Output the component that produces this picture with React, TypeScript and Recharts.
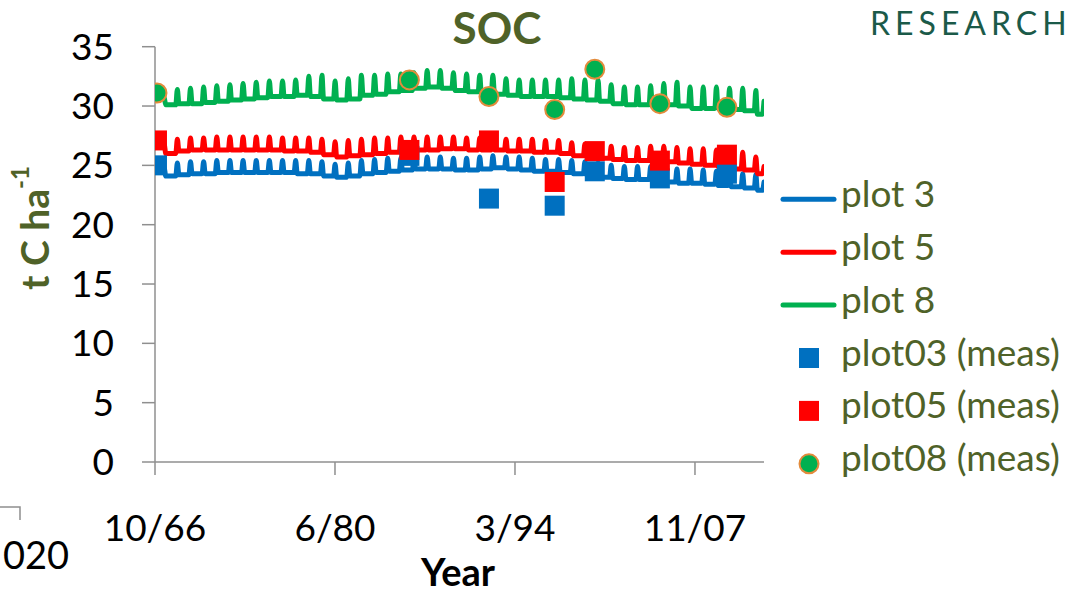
import React from 'react';
import { ComposedChart, Line, Scatter, XAxis, YAxis } from 'recharts';

// ---- simulated (modelled) series: one spike per year ----
const simYears = [
  1967, 1968, 1969, 1970, 1971, 1972, 1973, 1974, 1975, 1976,
  1977, 1978, 1979, 1980, 1981, 1982, 1983, 1984, 1985, 1986,
  1987, 1988, 1989, 1990, 1991, 1992, 1993, 1994, 1995, 1996,
  1997, 1998, 1999, 2000, 2001, 2002, 2003, 2004, 2005, 2006,
  2007, 2008, 2009, 2010, 2011, 2012,
];

const plot3Peak = [
  24.8, 25.2, 25.3, 25.3, 25.4, 25.4, 25.4, 25.4, 25.4, 25.4,
  25.4, 25.4, 25.3, 25.1, 25.2, 25.4, 25.5, 25.6, 25.6, 25.7,
  25.7, 25.7, 25.6, 25.6, 25.7, 25.8, 25.7, 25.7, 25.6, 25.5,
  25.5, 25.4, 25.3, 25.2, 25.0, 24.9, 24.9, 24.9, 24.8, 24.7,
  24.7, 24.6, 24.5, 24.4, 24.3, 24.2,
];
const plot3Trough = [
  24.1, 24.2, 24.3, 24.3, 24.4, 24.4, 24.4, 24.4, 24.4, 24.4,
  24.3, 24.3, 24.1, 24.0, 24.1, 24.3, 24.4, 24.5, 24.6, 24.7,
  24.7, 24.7, 24.6, 24.6, 24.7, 24.8, 24.7, 24.6, 24.5, 24.5,
  24.4, 24.3, 24.2, 24.0, 23.9, 23.8, 23.8, 23.7, 23.6, 23.5,
  23.5, 23.4, 23.3, 23.2, 23.1, 22.9,
];

const plot5Peak = [
  26.8, 27.2, 27.3, 27.3, 27.4, 27.4, 27.4, 27.4, 27.4, 27.3,
  27.3, 27.3, 27.2, 27.0, 27.1, 27.2, 27.3, 27.3, 27.4, 27.4,
  27.4, 27.4, 27.4, 27.3, 27.3, 27.3, 27.2, 27.2, 27.2, 27.1,
  27.1, 26.9, 26.8, 26.7, 26.6, 26.5, 26.5, 26.6, 26.6, 26.5,
  26.4, 26.4, 26.3, 26.2, 26.1, 25.7,
];
const plot5Trough = [
  26.0, 26.2, 26.3, 26.3, 26.3, 26.3, 26.3, 26.3, 26.3, 26.2,
  26.2, 26.1, 25.9, 25.7, 25.8, 25.9, 26.0, 26.1, 26.2, 26.3,
  26.3, 26.4, 26.4, 26.3, 26.3, 26.3, 26.2, 26.2, 26.1, 26.1,
  26.0, 25.8, 25.7, 25.6, 25.5, 25.4, 25.4, 25.3, 25.3, 25.2,
  25.1, 25.0, 24.9, 24.7, 24.6, 24.3,
];

const plot8Peak = [
  30.7, 31.4, 31.5, 31.6, 31.7, 31.8, 31.9, 32.0, 32.1, 32.1,
  32.2, 32.5, 32.6, 32.1, 32.3, 32.6, 32.6, 32.7, 32.7, 32.8,
  33.0, 33.0, 32.8, 32.7, 32.6, 32.6, 32.3, 32.2, 32.2, 32.2,
  32.2, 32.3, 32.2, 32.2, 31.8, 31.6, 31.6, 31.7, 31.9, 32.0,
  31.6, 31.6, 31.6, 31.5, 31.5, 31.3,
];
const plot8Trough = [
  30.1, 30.2, 30.2, 30.3, 30.4, 30.5, 30.6, 30.7, 30.8, 30.8,
  30.9, 30.8, 30.6, 30.5, 30.6, 30.9, 31.0, 31.2, 31.3, 31.5,
  31.6, 31.5, 31.3, 31.2, 31.1, 31.0, 30.9, 30.8, 30.8, 30.8,
  30.7, 30.6, 30.5, 30.4, 30.2, 30.1, 30.1, 30.1, 30.1, 30.0,
  29.8, 29.8, 29.8, 29.7, 29.6, 29.3,
];

const simStartTime = 1966.8;
const simEndTime = 2013.07;
const plot3Start = 25.0;
const plot5Start = 27.1;
const plot8Start = 31.1;
const plot3End = 23.6;
const plot5End = 24.9;
const plot8End = 30.4;

// ---- measured values ----
const measYears = [1966.9, 1986.1, 1992.15, 1997.15, 2000.2, 2005.15, 2010.25];
const plot03Meas = [25.0, 25.8, 22.2, 21.6, 24.5, 23.9, 24.3];
const plot05Meas = [27.1, 26.3, 27.1, 23.6, 26.2, 25.4, 25.9];
const plot08Meas = [31.1, 32.2, 30.8, 29.7, 33.1, 30.2, 29.9];

// ---- axes ----
const xTickValues = [1966.75, 1980.44, 1994.13, 2007.82];
const xTickLabels = ['10/66', '6/80', '3/94', '11/07'];
const yTickValues = [0, 5, 10, 15, 20, 25, 30, 35];

const legendNames = ['plot 3', 'plot 5', 'plot 8', 'plot03 (meas)', 'plot05 (meas)', 'plot08 (meas)'];

const BLUE = '#0070C0';
const RED = '#FF0000';
const GREEN = '#00B050';
const ORANGE = '#E38B3C';
const OLIVE = '#4F6228';
const AXIS = '#8F8F8F';
const FONT = 'Lato, "Open Sans", sans-serif';

function buildLine(start: number, peaks: number[], troughs: number[], end: number) {
  const pts: { t: number; v: number }[] = [{ t: simStartTime, v: start }];
  simYears.forEach((y, i) => {
    pts.push({ t: y + 0.45, v: peaks[i] });
    pts.push({ t: y + 0.57, v: troughs[i] });
    const pre = i < simYears.length - 1 ? y + 1.33 : simEndTime - 0.12;
    pts.push({ t: pre, v: troughs[i] });
  });
  pts.push({ t: simEndTime, v: end });
  return pts;
}

const line3 = buildLine(plot3Start, plot3Peak, plot3Trough, plot3End);
const line5 = buildLine(plot5Start, plot5Peak, plot5Trough, plot5End);
const line8 = buildLine(plot8Start, plot8Peak, plot8Trough, plot8End);

const meas03 = measYears.map((t, i) => ({ t, v: plot03Meas[i] }));
const meas05 = measYears.map((t, i) => ({ t, v: plot05Meas[i] }));
const meas08 = measYears.map((t, i) => ({ t, v: plot08Meas[i] }));

const squareShape = (color: string) => (props: any) => (
  <rect x={props.cx - 10} y={props.cy - 10} width={20} height={20} fill={color} />
);
const circleShape = (props: any) => (
  <circle cx={props.cx} cy={props.cy} r={9.5} fill={GREEN} stroke={ORANGE} strokeWidth={2} />
);

const YLabel = () => (
  <text
    transform="rotate(-90, 34, 228)"
    x={34}
    y={228}
    textAnchor="middle"
    dominantBaseline="central"
    fill={OLIVE}
    fontFamily={FONT}
    fontWeight={700}
    fontSize={39}
  >
    t C ha<tspan dy={-15} fontSize={24}>-1</tspan>
  </text>
);

const XLabel = () => (
  <text x={458} y={586} textAnchor="middle" fill="#000" fontFamily={FONT} fontWeight={700} fontSize={38}>
    Year
  </text>
);

export default function App() {
  const legendBase = 206.8;
  const legendStep = 52.9;
  return (
    <div style={{ position: 'absolute', left: 0, top: 0, width: 1082, height: 594, overflow: 'hidden', background: '#fff' }}>
      <ComposedChart width={1082} height={594} margin={{ top: 46.7, right: 318, bottom: 72, left: 95 }}>
        <XAxis
          dataKey="t"
          type="number"
          domain={[xTickValues[0], simEndTime]}
          allowDataOverflow
          ticks={xTickValues}
          interval={0}
          tickFormatter={(v: number) => {
            const i = xTickValues.indexOf(v);
            return i >= 0 ? xTickLabels[i] : '';
          }}
          height={60}
          tickSize={13}
          tickMargin={40}
          stroke={AXIS}
          strokeWidth={1.5}
          tick={{ fill: '#000', fontSize: 37, fontFamily: FONT }}
          label={<XLabel />}
        />
        <YAxis
          type="number"
          domain={[0, 35]}
          ticks={yTickValues}
          interval={0}
          width={60}
          tickSize={13}
          tickMargin={28}
          stroke={AXIS}
          strokeWidth={1.5}
          tick={{ fill: '#000', fontSize: 37, fontFamily: FONT }}
          label={<YLabel />}
        />
        <Line data={line3} dataKey="v" name="plot 3" type="monotone" stroke={BLUE} strokeWidth={5} dot={false} isAnimationActive={false} strokeLinejoin="round" strokeLinecap="round" />
        <Line data={line5} dataKey="v" name="plot 5" type="monotone" stroke={RED} strokeWidth={5} dot={false} isAnimationActive={false} strokeLinejoin="round" strokeLinecap="round" />
        <Line data={line8} dataKey="v" name="plot 8" type="monotone" stroke={GREEN} strokeWidth={5} dot={false} isAnimationActive={false} strokeLinejoin="round" strokeLinecap="round" />
        <Scatter data={meas03} dataKey="v" name="plot03 (meas)" fill={BLUE} shape={squareShape(BLUE)} isAnimationActive={false} />
        <Scatter data={meas05} dataKey="v" name="plot05 (meas)" fill={RED} shape={squareShape(RED)} isAnimationActive={false} />
        <Scatter data={meas08} dataKey="v" name="plot08 (meas)" fill={GREEN} shape={circleShape} isAnimationActive={false} />
      </ComposedChart>
      <svg width={1082} height={594} style={{ position: 'absolute', left: 0, top: 0, pointerEvents: 'none' }}>
        <text x={497} y={44} textAnchor="middle" fill={OLIVE} fontFamily={FONT} fontWeight={700} fontSize={44}>SOC</text>
        <text x={870} y={35} fill="#1B5A49" fontFamily={FONT} fontWeight={400} fontSize={32} letterSpacing={5}>RESEARCH</text>
        <text x={69} y={569} textAnchor="end" fill="#000" fontFamily={FONT} fontSize={38}>020</text>
        <polyline points="0,507 20,507 20,520" fill="none" stroke={AXIS} strokeWidth={1.5} />
        {legendNames.map((name, i) => {
          const base = legendBase + i * legendStep;
          const cy = base - 7.5;
          let icon: React.ReactNode = null;
          if (i < 3) {
            const c = [BLUE, RED, GREEN][i];
            icon = <line x1={783} x2={834} y1={cy} y2={cy} stroke={c} strokeWidth={5} strokeLinecap="round" />;
          } else if (i < 5) {
            const c = [BLUE, RED][i - 3];
            icon = <rect x={799} y={cy - 10} width={20} height={20} fill={c} />;
          } else {
            icon = <circle cx={809} cy={cy} r={9.5} fill={GREEN} stroke={ORANGE} strokeWidth={2} />;
          }
          return (
            <g key={name}>
              {icon}
              <text x={841} y={base} fill={OLIVE} fontFamily={FONT} fontSize={37}>{name}</text>
            </g>
          );
        })}
      </svg>
    </div>
  );
}
